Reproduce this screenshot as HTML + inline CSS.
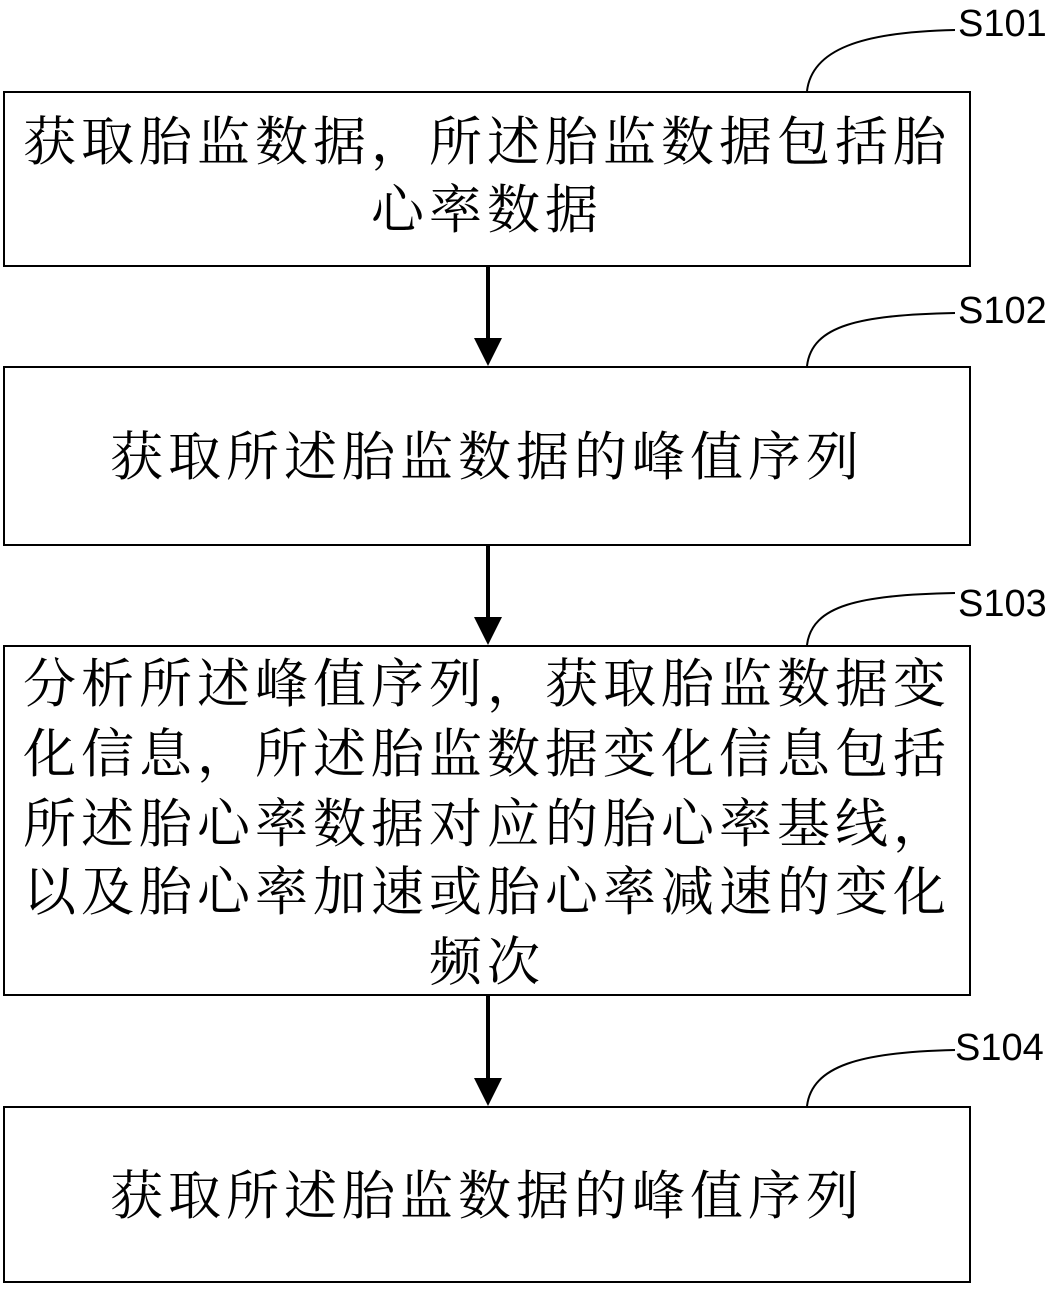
<!DOCTYPE html>
<html><head><meta charset="utf-8"><style>
html,body{margin:0;padding:0;background:#fff;}
body{width:1062px;height:1289px;position:relative;overflow:hidden;}
.box{position:absolute;left:3px;width:968px;border:2px solid #000;box-sizing:border-box;}
.t{position:absolute;left:3px;width:968px;text-align:center;font-family:"Liberation Serif","Noto Serif CJK SC",serif;font-size:53px;letter-spacing:5px;line-height:60px;white-space:nowrap;color:#000;}
.lab{position:absolute;font-family:"Liberation Sans","DejaVu Sans",sans-serif;font-size:38px;color:#000;}
</style></head><body>
<div class="box" style="top:91px;height:176px"></div>
<div class="box" style="top:366px;height:180px"></div>
<div class="box" style="top:645px;height:351px"></div>
<div class="box" style="top:1106px;height:177px"></div>

<div class="t" style="top:113px">获取胎监数据，所述胎监数据包括胎</div>
<div class="t" style="top:181px">心率数据</div>
<div class="t" style="top:428px">获取所述胎监数据的峰值序列</div>
<div class="t" style="top:655px">分析所述峰值序列，获取胎监数据变</div>
<div class="t" style="top:725px">化信息，所述胎监数据变化信息包括</div>
<div class="t" style="top:795px">所述胎心率数据对应的胎心率基线，</div>
<div class="t" style="top:863px">以及胎心率加速或胎心率减速的变化</div>
<div class="t" style="top:933px">频次</div>
<div class="t" style="top:1167px">获取所述胎监数据的峰值序列</div>

<div class="lab" style="left:958px;top:3px">S101</div>
<div class="lab" style="left:958px;top:290px">S102</div>
<div class="lab" style="left:958px;top:583px">S103</div>
<div class="lab" style="left:955px;top:1027px">S104</div>

<svg width="1062" height="1289" style="position:absolute;left:0;top:0">
<g fill="none" stroke="#000" stroke-width="2">
<path d="M807,91 C812,50 860,32 955,30"/>
<path d="M807,366 C812,325 860,315 955,313"/>
<path d="M807,645 C812,605 860,595 955,593"/>
<path d="M807,1106 C812,1066 860,1052 955,1050"/>
</g>
<g stroke="#000" stroke-width="4">
<line x1="488" y1="266" x2="488" y2="345"/>
<line x1="488" y1="545" x2="488" y2="624"/>
<line x1="488" y1="995" x2="488" y2="1085"/>
</g>
<g fill="#000">
<polygon points="474,338 502,338 488,366"/>
<polygon points="474,617 502,617 488,645"/>
<polygon points="474,1078 502,1078 488,1106"/>
</g>
</svg>
</body></html>
